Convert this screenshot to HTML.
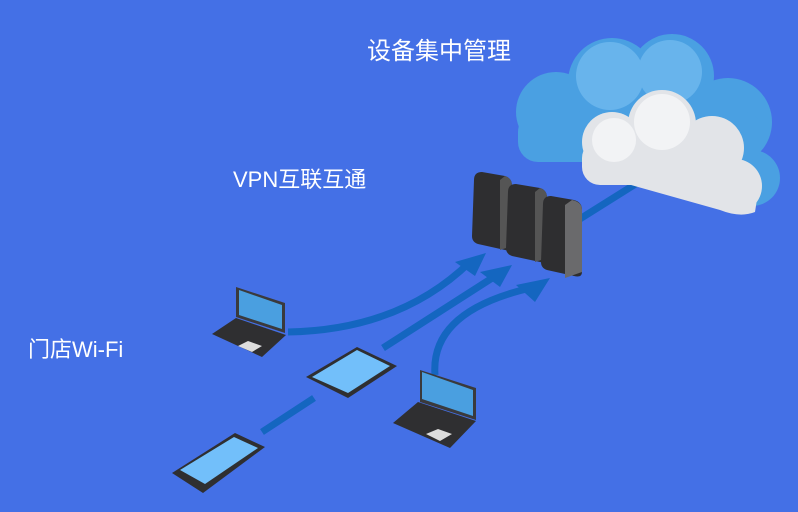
<!DOCTYPE html>
<html><head><meta charset="utf-8"><style>
html,body{margin:0;padding:0;background:#4470e6;}
svg{display:block}
text{font-family:"Liberation Sans","Noto Sans CJK SC",sans-serif;fill:#fff}
</style></head><body>
<svg width="798" height="512" viewBox="0 0 798 512">
<rect width="798" height="512" fill="#4470e6"/>
<!-- back blue cloud -->
<g fill="#4aa0e2">
<circle cx="556" cy="112" r="40"/><circle cx="612" cy="82" r="44"/><circle cx="672" cy="76" r="42"/>
<circle cx="728" cy="122" r="44"/><circle cx="752" cy="178" r="28"/>
<rect x="518" y="112" width="245" height="50" rx="20"/>
</g>
<g fill="#68b4ec"><circle cx="610" cy="76" r="34"/><circle cx="670" cy="72" r="32"/></g>
<!-- link server-cloud -->
<line x1="575" y1="222" x2="650" y2="175" stroke="#1466c0" stroke-width="7"/>
<!-- white cloud -->
<g fill="#e2e4e8">
<circle cx="612" cy="142" r="30"/><circle cx="662" cy="124" r="34"/><circle cx="712" cy="148" r="32"/>
<circle cx="735" cy="186" r="27"/><path d="M582 160 L760 180 L755 212 Q740 218 720 210 L585 172Z"/>
<rect x="582" y="140" width="158" height="45" rx="18"/>
</g>
<g fill="#f2f3f5"><circle cx="662" cy="122" r="28"/><circle cx="614" cy="140" r="22"/></g>
<!-- arrows -->
<g fill="none" stroke="#1466c0" stroke-width="7">
<path d="M288 332 Q400 330 470 262"/>
<path d="M383 348 L500 273"/>
<path d="M435 375 Q430 310 535 287"/>
<path d="M262 432 L314 398"/>
</g>
<g fill="#1466c0">
<polygon points="455,262 486,253 475,276"/>
<polygon points="480,272 512,265 500,287"/>
<polygon points="516,285 550,278 535,302"/>
</g>
<!-- servers -->
<g>
<path d="M474 180 Q474 172 482 172 L505 176 Q512 178 512 186 L512 246 Q512 252 505 250 L478 244 Q472 242 472 236Z" fill="#2e2e30"/>
<path d="M505 176 Q512 178 512 186 L512 246 L500 250 L500 180Z" fill="#555"/>
<path d="M508 192 Q508 184 516 184 L540 188 Q547 190 547 198 L547 258 Q547 264 540 262 L512 256 Q506 254 506 248Z" fill="#2e2e30"/>
<path d="M540 188 Q547 190 547 198 L547 258 L535 262 L535 192Z" fill="#555"/>
<path d="M543 204 Q543 196 551 196 L574 200 Q582 202 582 210 L582 272 Q582 278 574 276 L547 270 Q541 268 541 262Z" fill="#2e2e30"/>
<path d="M572 200 Q582 202 582 210 L582 272 L565 278 L565 205Z" fill="#6a6a6c"/>
</g>
<!-- laptop 1 -->
<polygon points="236,287 285,303 285,333 236,317" fill="#3a3a3c"/>
<polygon points="239,290 282,305 282,329 239,315" fill="#4a9fe0"/>
<polygon points="212,334 236,318 286,335 262,357" fill="#2f2f31"/>
<polygon points="238,346 248,341 262,346 252,352" fill="#ddd"/>
<!-- tablet -->
<polygon points="306,377 357,347 397,366 348,398" fill="#2f2f31"/>
<polygon points="312,377 357,350 390,366 348,393" fill="#72bffa"/>
<!-- laptop 2 -->
<polygon points="420,370 476,388 476,420 420,402" fill="#3a3a3c"/>
<polygon points="422,372 473,390 473,416 422,399" fill="#4a9fe0"/>
<polygon points="393,423 418,402 476,421 450,448" fill="#2f2f31"/>
<polygon points="426,434 438,429 452,434 440,441" fill="#ddd"/>
<!-- phone -->
<polygon points="172,473 235,433 265,447 203,493" fill="#2f2f31"/>
<polygon points="180,470 234,437 258,448 205,484" fill="#72bffa"/>
<!-- labels -->
<text x="367" y="59" font-size="24">设备集中管理</text>
<text x="233" y="187" font-size="22">VPN互联互通</text>
<text x="28" y="357" font-size="22">门店Wi-Fi</text>
</svg>
</body></html>
